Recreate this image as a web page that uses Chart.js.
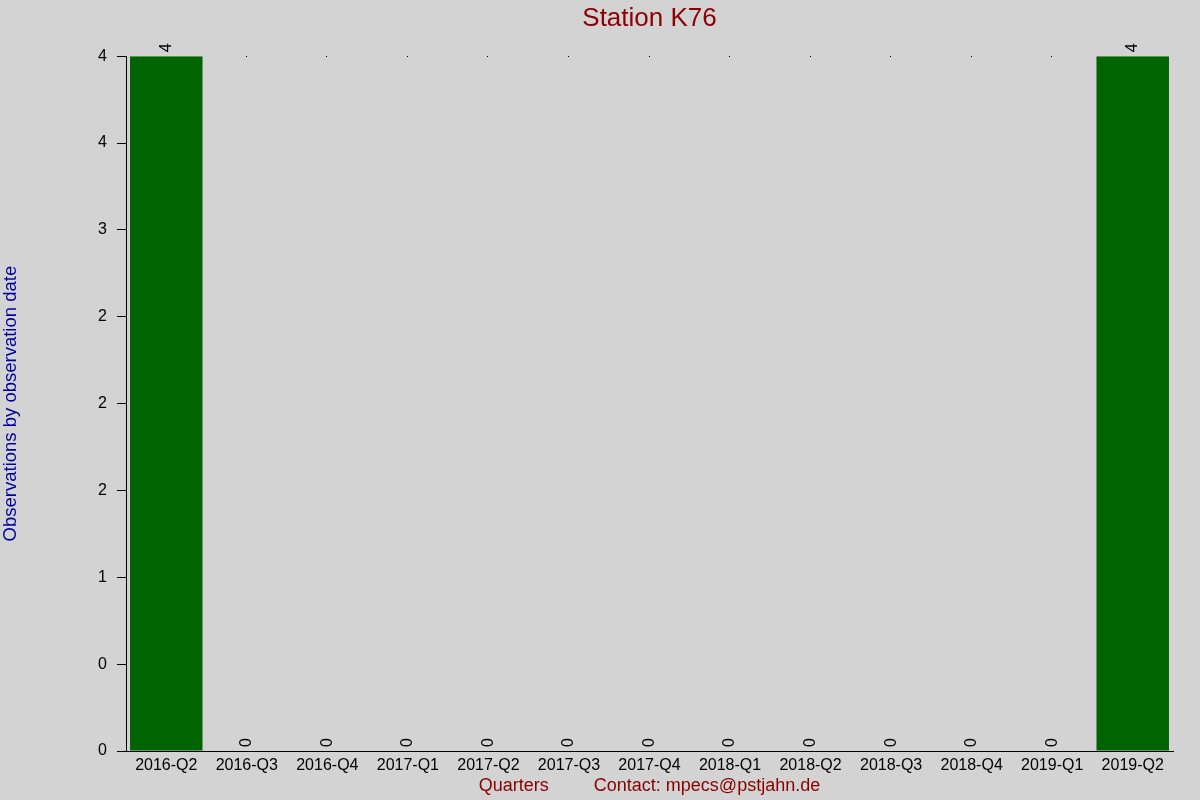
<!DOCTYPE html>
<html>
<head>
<meta charset="utf-8">
<script src="https://cdn.jsdelivr.net/npm/chart.js@4.4.1/dist/chart.umd.min.js"></script>
<style>
html,body{margin:0;padding:0;background:#d3d3d3;}
#c{display:block;}
</style>
</head>
<body>
<canvas id="c" width="1200" height="800"></canvas>
<script>
const categories = ['2016-Q2','2016-Q3','2016-Q4','2017-Q1','2017-Q2','2017-Q3','2017-Q4','2018-Q1','2018-Q2','2018-Q3','2018-Q4','2019-Q1','2019-Q2'];
const observations = [4,0,0,0,0,0,0,0,0,0,0,0,4];
const yTickLabels = ['0','0','1','2','2','2','3','4','4'];
const titleText = 'Station K76';
const yTitleText = 'Observations by observation date';
const xTitleText = 'Quarters         Contact: mpecs@pstjahn.de';

const FONT = '"Liberation Sans", Arial, sans-serif';

const bgPlugin = {
  id: 'bg',
  beforeDraw(chart) {
    const ctx = chart.ctx;
    ctx.save();
    ctx.fillStyle = '#d3d3d3';
    ctx.fillRect(0, 0, chart.width, chart.height);
    ctx.restore();
  }
};

const valueLabels = {
  id: 'valueLabels',
  afterDatasetsDraw(chart) {
    const ctx = chart.ctx;
    const meta = chart.getDatasetMeta(0);
    const yScale = chart.scales.y;
    const topY = yScale.getPixelForValue(yScale.max);
    ctx.save();
    ctx.font = '16px ' + FONT;
    ctx.fillStyle = '#000';
    ctx.textAlign = 'left';
    ctx.textBaseline = 'middle';
    meta.data.forEach((bar, i) => {
      ctx.save();
      ctx.translate(bar.x, bar.y - 4);
      ctx.rotate(-Math.PI / 2);
      ctx.fillText(String(observations[i]), 0, 0);
      ctx.restore();
      if (observations[i] === 0) {
        ctx.fillRect(Math.round(bar.x) - 1, Math.round(topY), 1, 1);
      }
    });
    ctx.restore();
  }
};

new Chart(document.getElementById('c'), {
  type: 'bar',
  data: {
    labels: categories,
    datasets: [{
      data: observations,
      backgroundColor: '#006400',
      borderWidth: 0,
      barPercentage: 0.9,
      categoryPercentage: 1.0
    }]
  },
  options: {
    responsive: false,
    animation: false,
    devicePixelRatio: 1,
    layout: { padding: { left: 0, right: 27, top: 0, bottom: 0 } },
    plugins: {
      legend: { display: false },
      tooltip: { enabled: false },
      title: {
        display: true,
        fullSize: false,
        text: titleText,
        color: '#8b0000',
        font: { family: FONT, size: 26, weight: 'normal' },
        padding: { top: 3, bottom: 22 }
      }
    },
    scales: {
      x: {
        offset: true,
        grid: { display: false, drawTicks: false },
        border: { display: true, color: '#000', width: 1 },
        ticks: {
          color: '#000',
          font: { family: FONT, size: 16 },
          padding: 5,
          maxRotation: 0,
          autoSkip: false
        },
        title: {
          display: true,
          text: xTitleText,
          color: '#8b0000',
          font: { family: FONT, size: 18 },
          padding: { top: 0, bottom: 3 }
        },
        afterFit(scale) { scale.height = 49; }
      },
      y: {
        min: 0,
        max: 4,
        grid: {
          drawOnChartArea: false,
          drawTicks: true,
          tickLength: 9,
          color: '#000'
        },
        border: { display: true, color: '#000', width: 1 },
        ticks: {
          stepSize: 0.5,
          color: '#000',
          font: { family: FONT, size: 16 },
          padding: 10,
          callback: (v, i) => yTickLabels[i]
        },
        title: {
          display: true,
          text: yTitleText,
          color: '#0000a0',
          font: { family: FONT, size: 18.5 },
          padding: { top: 0, bottom: 0 }
        },
        afterFit(scale) { scale.width = 126; }
      }
    }
  },
  plugins: [bgPlugin, valueLabels]
});
</script>
</body>
</html>
